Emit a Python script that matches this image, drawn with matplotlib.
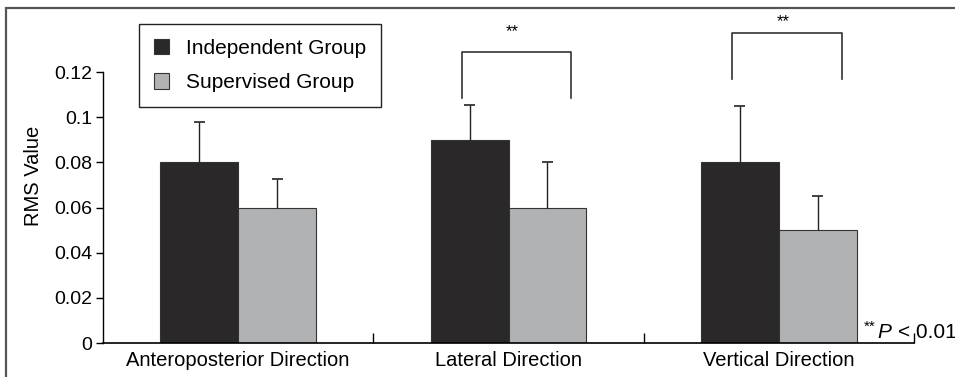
import numpy as np
import matplotlib
matplotlib.use("Agg")
import matplotlib.pyplot as plt
from matplotlib.patches import Rectangle

plt.rcParams['font.family'] = ['Liberation Sans', 'DejaVu Sans']

# data
# -------------------------------------------------------------------------------------
categories = ["Anteroposterior Direction", "Lateral Direction", "Vertical Direction"]
independent = [0.08, 0.09, 0.08]
independent_sd = [0.018, 0.0155, 0.025]
supervised = [0.06, 0.06, 0.05]
supervised_sd = [0.0126, 0.02, 0.015]
yticks = [0, 0.02, 0.04, 0.06, 0.08, 0.1, 0.12]
ytick_labels = ["0", "0.02", "0.04", "0.06", "0.08", "0.1", "0.12"]
signif_groups = [1, 2]          # groups marked with **

W, H = 955, 377
fig = plt.figure(figsize=(W / 100, H / 100), dpi=100)

# axes placed in pixels: y-axis at x=103, zero line at y=343
left, right, bottom, top = 103, 914, 343, 8
ax = fig.add_axes([left / W, (H - bottom) / H, (right - left) / W, (bottom - top) / H])

x = np.arange(len(categories))
bw = 0.288
dark = "#2a2829"
grey = "#b1b2b4"
edge = "#333333"

ax.bar(x - bw / 2, independent, bw, color=dark, edgecolor=edge, linewidth=0.8,
       label="Independent Group", zorder=2)
ax.bar(x + bw / 2, supervised, bw, color=grey, edgecolor=edge, linewidth=0.8,
       label="Supervised Group", zorder=2)

# upper-only error bars with a cap on top
for xs, m, sd in [(x - bw / 2, independent, independent_sd),
                  (x + bw / 2, supervised, supervised_sd)]:
    tops = np.array(m) + np.array(sd)
    ax.vlines(xs, m, tops, color="#222222", lw=1, zorder=3)
    ax.hlines(tops, xs - 0.02, xs + 0.02, color="#222222", lw=1.2, zorder=3)

ax.set_xlim(-0.5, 2.5)
ax.set_ylim(0, (bottom - top) / 2258)

# significance brackets
bracket_y = {1: (0.1086, 0.129, 0.138), 2: (0.117, 0.1373, 0.1425)}
for g in signif_groups:
    y0, y1, ys = bracket_y[g]
    xl, xr = g - 0.172, g + 0.232
    ax.plot([xl, xl, xr, xr], [y0, y1, y1, y0], color="#333333", lw=1.2,
            clip_on=False)
    ax.text(g + 0.015, ys, "**", ha="center", va="center", fontsize=12)

# axes styling
for s in ["top", "right"]:
    ax.spines[s].set_visible(False)
ax.spines["left"].set_bounds(0, 0.12)
ax.spines["left"].set_linewidth(1)
ax.spines["bottom"].set_linewidth(1.2)

ax.set_yticks(yticks)
ax.set_yticklabels(ytick_labels, fontsize=14)
ax.tick_params(axis="y", direction="out", length=5, width=1, pad=3)

ax.set_xticks(x)
ax.set_xticklabels(categories, fontsize=14.5)
ax.tick_params(axis="x", which="major", length=0, pad=6)
ax.set_xticks([0.5, 1.5, 2.5], minor=True)
ax.tick_params(axis="x", which="minor", direction="in", length=7, width=1)

ax.set_ylabel("RMS Value", fontsize=14.5, labelpad=8)

leg = ax.legend(loc="upper left", bbox_to_anchor=(139 / W, 1 - 24 / H),
                bbox_transform=fig.transFigure, borderaxespad=0, fontsize=15,
                fancybox=False, edgecolor="#222222", framealpha=1,
                handlelength=0.75, handleheight=0.75, handletextpad=0.8,
                labelspacing=0.75, borderpad=0.7)
leg.get_frame().set_linewidth(1)

# p-value note
fig.text(864 / W, 1 - 327 / H, "**", fontsize=11, ha="left", va="center")
fig.text(877 / W, 1 - 332 / H, "P", fontsize=15, style="italic", ha="left", va="center")
fig.text(898 / W, 1 - 332 / H, "< 0.01", fontsize=15, ha="left", va="center")

# outer frame around the figure
fig.add_artist(Rectangle((6 / W, -0.5), 2, 1.5 - 7.5 / H, transform=fig.transFigure,
                         fill=False, edgecolor="#555555", lw=1.6, clip_on=False))

fig.savefig("out.png", dpi=100)
